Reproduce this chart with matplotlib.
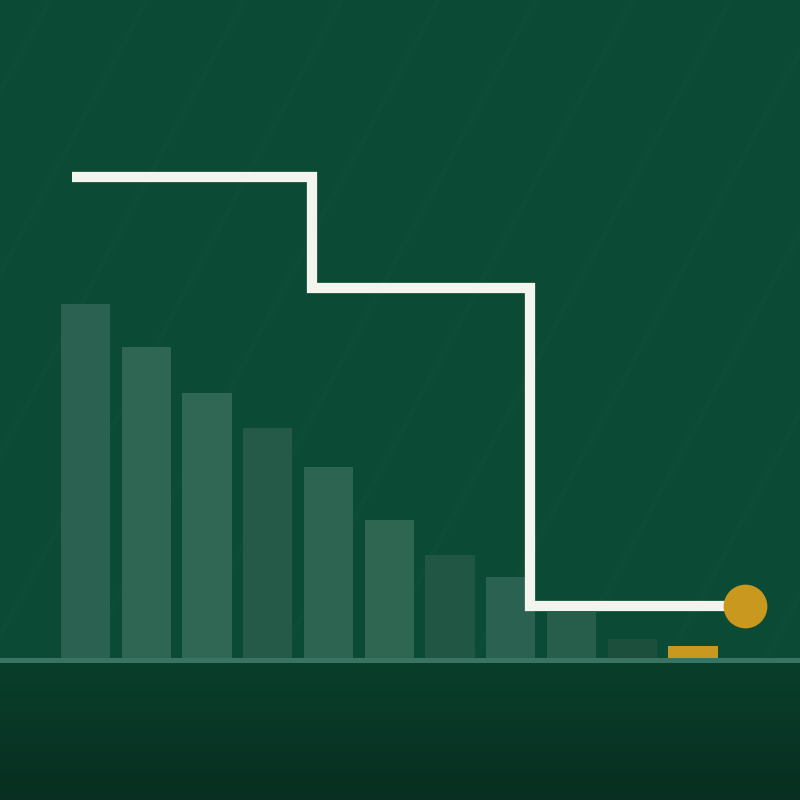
import matplotlib
matplotlib.use("Agg")
import matplotlib.pyplot as plt
import numpy as np

# bar heights (arbitrary units, first bar = 100)
bar_values = [100, 88, 75, 65, 54, 39, 29, 23, 13, 5.4, 3.4]
bar_colors = ["#2a6150", "#2e6653", "#2f6754", "#245a47", "#2c6451", "#2e6652",
              "#215645", "#2a6150", "#275d4b", "#1d4f3d", "#c9991f"]

# step line: x in bar-index units, y in the same units as the bars
step_x = [-0.22, 3.73, 7.32, 10.86]
step_y = [136, 104.5, 14.7, 14.7]

fig = plt.figure(figsize=(8, 8), dpi=100)
ax = fig.add_axes([0, 0, 1, 1])

x_left, x_right = -1.407, 11.76
y_bot, y_top = -40.1, 185.9
ax.set_xlim(x_left, x_right)
ax.set_ylim(y_bot, y_top)
ax.axis("off")

# background gradient (top part and darker floor)
top = np.array([0x0b, 0x4b, 0x36]) / 255
mid = np.array([0x0b, 0x4a, 0x35]) / 255
floor_top = np.array([0x0a, 0x3f, 0x2c]) / 255
floor_bot = np.array([0x08, 0x2f, 0x21]) / 255
n = 400
grad = np.zeros((n, 1, 3))
ys = np.linspace(y_top, y_bot, n)
for k, yv in enumerate(ys):
    if yv >= 0:
        t = 1 - yv / y_top
        grad[k, 0] = top * (1 - t) + mid * t
    else:
        t = yv / y_bot
        grad[k, 0] = floor_top * (1 - t) + floor_bot * t
ax.imshow(grad, extent=[x_left, x_right, y_bot, y_top], aspect="auto", zorder=0)

# faint diagonal streaks
for c in np.arange(-8, 14, 1.6):
    xs = np.array([c, c + 6])
    ax.plot(xs, (xs - c) * 32, color="#ffffff", alpha=0.01, lw=5, zorder=1)

idx = np.arange(len(bar_values))
ax.bar(idx, bar_values, width=0.81, color=bar_colors, zorder=2)

# baseline
ax.axhline(-0.6, color="#3a7361", lw=3.6, zorder=3)

ax.plot(step_x, step_y, drawstyle="steps-post", color="#f4f4ef", lw=7.4,
        solid_capstyle="butt", solid_joinstyle="miter", zorder=4)
ax.plot(step_x[-1], step_y[-1], "o", color="#c9991f", markersize=31.5,
        markeredgewidth=0, zorder=5)

fig.savefig("out.png", dpi=100)
